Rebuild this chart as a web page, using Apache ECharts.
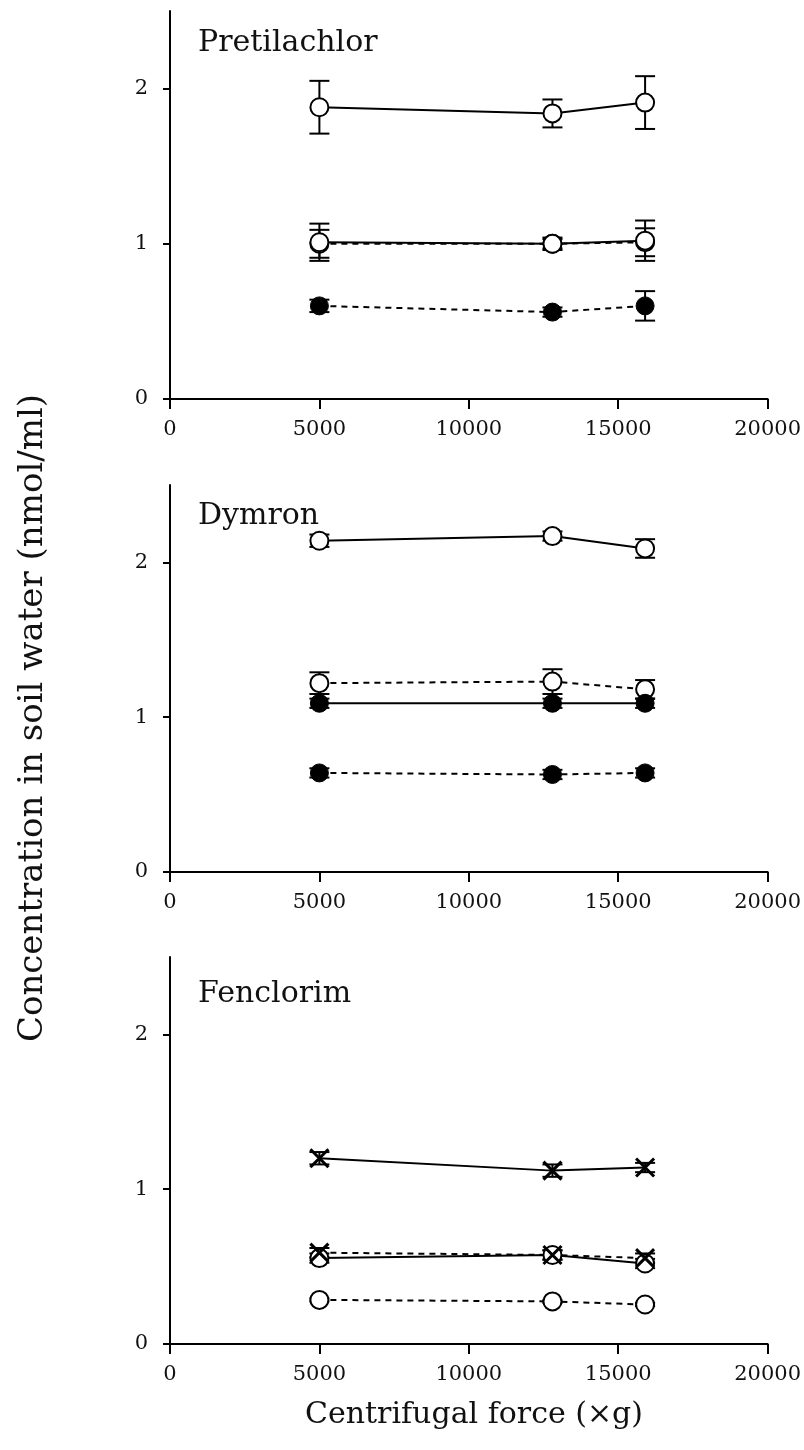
<!DOCTYPE html>
<html>
<head>
<meta charset="utf-8">
<script src="https://cdn.jsdelivr.net/npm/echarts@6/dist/echarts.min.js"></script>
<style>
  html, body { margin: 0; padding: 0; background: #fff; }
  #chart { width: 804px; height: 1450px; }
</style>
</head>
<body>
<div id="chart"></div>
<script>
// centrifugal force (x g) for the three runs
var forces = [5000, 12800, 15900];

// Pretilachlor
var pretiOpenA = [1.88, 1.84, 1.91];
var pretiOpenAErr = [0.17, 0.09, 0.17];
var pretiOpenB = [1.01, 1.00, 1.02];
var pretiOpenBErr = [0.12, 0.04, 0.13];
var pretiOpenC = [1.00, 1.00, 1.01];
var pretiOpenCErr = [0.09, 0.03, 0.09];
var pretiFilled = [0.60, 0.56, 0.60];
var pretiFilledErr = [0.04, 0.03, 0.095];

// Dymron
var dymOpenA = [2.14, 2.17, 2.09];
var dymOpenAErr = [0.04, 0.03, 0.06];
var dymOpenB = [1.22, 1.23, 1.18];
var dymOpenBErr = [0.07, 0.08, 0.06];
var dymFilledA = [1.09, 1.09, 1.09];
var dymFilledAErr = [0.03, 0.03, 0.03];
var dymFilledB = [0.64, 0.63, 0.64];
var dymFilledBErr = [0.03, 0.03, 0.03];

// Fenclorim
var fenCrossA = [1.20, 1.12, 1.14];
var fenCrossAErr = [0.04, 0.04, 0.03];
var fenCrossB = [0.59, 0.575, 0.555];
var fenCrossBErr = [0.03, 0.03, 0.03];
var fenOpenA = [0.555, 0.575, 0.52];
var fenOpenAErr = [0.03, 0.03, 0.03];
var fenOpenB = [0.285, 0.275, 0.255];
var fenOpenBErr = [0.01, 0.01, 0.01];

var yTicks = [0, 1, 2];
var xTicks = [0, 5000, 10000, 15000, 20000];

var FONT = 'DejaVu Serif';
var CROSS = 'path://M0,0L10,10M10,0L0,10';

var grids = [
    {left: 170, width: 600, top: 11, height: 388},
    {left: 170, width: 600, top: 485, height: 387},
    {left: 170, width: 600, top: 957, height: 387}
];

function pairs(vals) {
    return forces.map(function (f, i) { return [f, vals[i]]; });
}

function errData(vals, errs) {
    return forces.map(function (f, i) { return [f, vals[i], errs[i]]; });
}

function renderErr(params, api) {
    var x = api.value(0), y = api.value(1), e = api.value(2);
    var hi = api.coord([x, y + e]);
    var lo = api.coord([x, y - e]);
    var w = 10;
    var st = {stroke: '#000', lineWidth: 2};
    return {
        type: 'group',
        children: [
            {type: 'line', shape: {x1: hi[0], y1: hi[1], x2: lo[0], y2: lo[1]}, style: st},
            {type: 'line', shape: {x1: hi[0] - w, y1: hi[1], x2: hi[0] + w, y2: hi[1]}, style: st},
            {type: 'line', shape: {x1: lo[0] - w, y1: lo[1], x2: lo[0] + w, y2: lo[1]}, style: st}
        ]
    };
}

var series = [];

function addSeries(gi, vals, errs, marker, dashed) {
    series.push({
        type: 'custom',
        xAxisIndex: gi,
        yAxisIndex: gi,
        renderItem: renderErr,
        data: errData(vals, errs),
        z: 2,
        silent: true
    });
    var item;
    if (marker === 'open') {
        item = {color: '#fff', borderColor: '#000', borderWidth: 2};
    } else if (marker === 'filled') {
        item = {color: '#000', borderColor: '#000', borderWidth: 1};
    } else {
        item = {color: 'rgba(0,0,0,0)', borderColor: '#000', borderWidth: 3};
    }
    series.push({
        type: 'line',
        xAxisIndex: gi,
        yAxisIndex: gi,
        data: pairs(vals),
        symbol: marker === 'cross' ? CROSS : 'circle',
        symbolSize: marker === 'cross' ? 18 : 18,
        showAllSymbol: true,
        lineStyle: {color: '#000', width: 2, type: dashed ? [6, 5] : 'solid'},
        itemStyle: item,
        z: 3,
        silent: true
    });
}

addSeries(0, pretiOpenC, pretiOpenCErr, 'open', true);
addSeries(0, pretiOpenB, pretiOpenBErr, 'open', false);
addSeries(0, pretiOpenA, pretiOpenAErr, 'open', false);
addSeries(0, pretiFilled, pretiFilledErr, 'filled', true);

addSeries(1, dymOpenA, dymOpenAErr, 'open', false);
addSeries(1, dymOpenB, dymOpenBErr, 'open', true);
addSeries(1, dymFilledA, dymFilledAErr, 'filled', false);
addSeries(1, dymFilledB, dymFilledBErr, 'filled', true);

addSeries(2, fenCrossA, fenCrossAErr, 'cross', false);
addSeries(2, fenOpenA, fenOpenAErr, 'open', false);
addSeries(2, fenCrossB, fenCrossBErr, 'cross', true);
addSeries(2, fenOpenB, fenOpenBErr, 'open', true);

function plain(v) {
    return String(v);
}

var xAxes = grids.map(function (g, i) {
    return {
        type: 'value',
        gridIndex: i,
        min: 0,
        max: 20000,
        interval: 5000,
        splitLine: {show: false},
        axisLine: {lineStyle: {color: '#000', width: 2}},
        axisTick: {length: 10, lineStyle: {color: '#000', width: 2}, customValues: xTicks},
        axisLabel: {color: '#111', fontFamily: FONT, fontSize: 21, margin: 20,
            customValues: xTicks, formatter: plain}
    };
});

var yAxes = grids.map(function (g, i) {
    return {
        type: 'value',
        gridIndex: i,
        min: 0,
        max: 2.5,
        interval: 1,
        splitLine: {show: false},
        axisLine: {show: true, lineStyle: {color: '#000', width: 2}},
        axisTick: {show: true, length: 7, lineStyle: {color: '#000', width: 2}, customValues: yTicks},
        axisLabel: {color: '#111', fontFamily: FONT, fontSize: 21, margin: 22,
            customValues: yTicks, formatter: plain}
    };
});

function label(text, x, y, size, rot, align) {
    return {
        type: 'text',
        x: x,
        y: y,
        rotation: rot || 0,
        style: {
            text: text,
            fill: '#111',
            font: size + 'px "' + FONT + '"',
            align: align || 'left',
            verticalAlign: 'middle'
        }
    };
}

var chart = echarts.init(document.getElementById('chart'));
chart.setOption({
    animation: false,
    grid: grids,
    xAxis: xAxes,
    yAxis: yAxes,
    series: series,
    graphic: [
        label('Pretilachlor', 198, 43, 30),
        label('Dymron', 198, 516, 30),
        label('Fenclorim', 198, 994, 30),
        label('Concentration in soil water (nmol/ml)', 33, 718, 34, Math.PI / 2, 'center'),
        label('Centrifugal force (\u00d7g)', 474, 1415, 30, 0, 'center')
    ]
});

window.addEventListener('resize', function () {
    chart.resize();
});
</script>
</body>
</html>
